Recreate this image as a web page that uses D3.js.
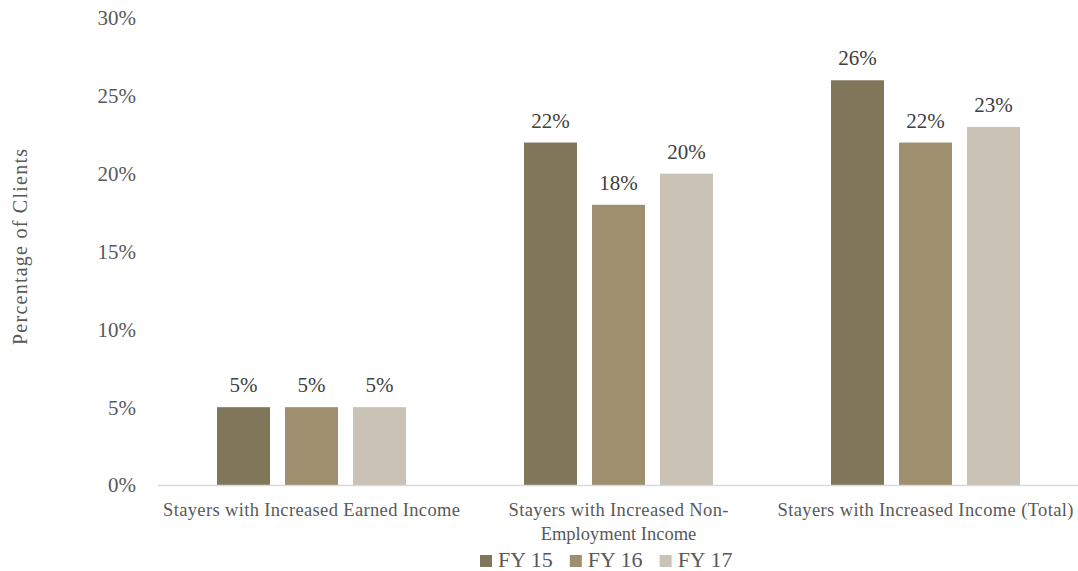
<!DOCTYPE html>
<html><head><meta charset="utf-8">
<script src="https://cdn.jsdelivr.net/npm/d3@7"></script>
<style>body{margin:0;background:#fff}text{font-family:"Liberation Serif","Times New Roman",serif}</style>
</head><body><svg id="c" width="1078" height="571"></svg>
<script>
const categories = [["Stayers with Increased Earned Income"],["Stayers with Increased Non-","Employment Income"],["Stayers with Increased Income (Total)"]];
const seriesNames = ["FY 15","FY 16","FY 17"];
const fy15 = [5, 22, 26];
const fy16 = [5, 18, 22];
const fy17 = [5, 20, 23];
const yTicks = [0,5,10,15,20,25,30];
const colors = ["#80775b","#9e8f6e","#c9c2b5"];
const series = [fy15, fy16, fy17];

const svg = d3.select("#c");
const x0 = d3.scaleBand().domain(d3.range(categories.length)).range([158,1079]).paddingInner(0).paddingOuter(0);
const x1 = d3.scaleBand().domain(d3.range(3)).range([0, x0.bandwidth()]).paddingInner(15/68).paddingOuter((x0.bandwidth()-3*53-2*15)/2/68 );
const y = d3.scaleLinear().domain([0,30]).range([485,18]);

// y tick labels
svg.append("g").selectAll("text").data(yTicks).join("text")
  .attr("x",136).attr("y",d=>y(d)).attr("dy","0.35em").attr("text-anchor","end")
  .attr("font-size",21).attr("fill","#595959").text(d=>d+"%");

// axis title
svg.append("text").attr("transform","translate(27,247) rotate(-90)").attr("text-anchor","middle")
  .attr("font-size",20).attr("fill","#595959")
  .attr("textLength",196).attr("lengthAdjust","spacing").text("Percentage of Clients");

// bars
const g = svg.append("g");
categories.forEach((c,i)=>{
  series.forEach((s,j)=>{
    const bx = x0(i)+x1(j);
    g.append("rect").attr("x",bx).attr("y",y(s[i])).attr("width",x1.bandwidth()).attr("height",y(0)-y(s[i])).attr("fill",colors[j]);
    g.append("text").attr("x",bx+x1.bandwidth()/2).attr("y",y(s[i])-15).attr("text-anchor","middle")
      .attr("font-size",21).attr("fill","#404040").text(s[i]+"%");
  });
});

// baseline
svg.append("line").attr("x1",158).attr("x2",1078).attr("y1",485.5).attr("y2",485.5).attr("stroke","#d9d9d9").attr("stroke-width",1.5);

// category labels
const catLen = [[297],[220,null],[296]];
categories.forEach((c,i)=>{
  const t = svg.append("text").attr("x",x0(i)+x0.bandwidth()/2).attr("y",516).attr("text-anchor","middle")
    .attr("font-size",18.5).attr("fill","#595959");
  c.forEach((line,k)=>{
    const ts = t.append("tspan").attr("x",x0(i)+x0.bandwidth()/2).attr("dy",k?24:0).text(line);
    if (catLen[i][k]) ts.attr("textLength",catLen[i][k]).attr("lengthAdjust","spacing");
  });
});

// legend
const lg = svg.append("g");
let cx = 480;
seriesNames.forEach((n,j)=>{
  lg.append("rect").attr("x",cx).attr("y",555).attr("width",12).attr("height",12).attr("fill",colors[j]);
  const t = lg.append("text").attr("x",cx+18).attr("y",567).attr("font-size",22).attr("fill","#595959").text(n);
  cx += 18 + t.node().getComputedTextLength() + 17;
});
</script></body></html>
